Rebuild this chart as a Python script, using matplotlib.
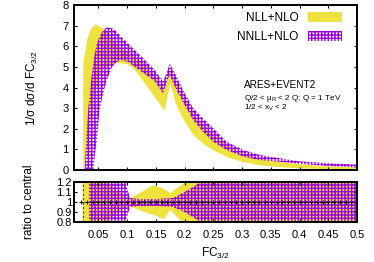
import numpy as np
import matplotlib
matplotlib.use('Agg')
import matplotlib.pyplot as plt
from matplotlib.patches import Patch

plt.rcParams['font.family'] = ['Liberation Sans', 'DejaVu Sans']
plt.rcParams['mathtext.fontset'] = 'custom'
plt.rcParams['mathtext.rm'] = 'Liberation Sans'
plt.rcParams['mathtext.it'] = 'Liberation Sans'
plt.rcParams['mathtext.default'] = 'regular'
plt.rcParams['hatch.linewidth'] = 1.0

yellow = '#eee23e'
purple = '#9a00e0'

# NLL+NLO band (main panel)
x_nll = [0.0227, 0.030, 0.036, 0.0436, 0.050, 0.058, 0.070, 0.080, 0.090, 0.100, 0.112, 0.125,
         0.146, 0.164, 0.174, 0.186, 0.200, 0.215, 0.232, 0.250, 0.273, 0.302, 0.331, 0.363,
         0.400, 0.450, 0.500]
nll_lo = [0.0, 1.0, 2.5, 3.8, 4.5, 4.9, 5.1, 5.2, 5.2, 5.15, 4.9, 4.41,
          3.6, 2.9, 4.2, 3.07, 2.34, 1.7, 1.29, 0.97, 0.65, 0.4, 0.25, 0.17,
          0.1, 0.06, 0.03]
nll_hi = [5.2, 6.4, 6.85, 7.08, 7.0, 6.87, 6.55, 6.2, 5.95, 5.7, 5.55, 5.3,
          4.6, 3.95, 4.9, 4.1, 3.4, 2.7, 2.2, 1.75, 1.2, 0.8, 0.55, 0.42,
          0.3, 0.2, 0.15]

# NNLL+NLO band (main panel)
x_nnll = [0.026, 0.032, 0.038, 0.041, 0.044, 0.047, 0.052, 0.058, 0.064, 0.073, 0.080, 0.088,
          0.101, 0.125, 0.148, 0.1626, 0.171, 0.174, 0.186, 0.200, 0.215, 0.232, 0.250, 0.273,
          0.302, 0.331, 0.363, 0.400, 0.450, 0.500]
nnll_hi = [0.0, 2.9, 4.5, 5.2, 5.7, 6.1, 6.46, 6.75, 6.92, 6.88, 6.75, 6.5,
           6.15, 5.5, 4.85, 4.28, 4.9, 5.17, 4.52, 3.72, 2.99, 2.5, 2.02, 1.37,
           0.97, 0.73, 0.58, 0.42, 0.33, 0.26]
nnll_lo = [0.0, 0.0, 0.0, 0.0, 0.75, 1.4, 2.9, 3.7, 4.3, 4.95, 5.2, 5.33,
           5.25, 4.77, 4.3, 3.72, 4.45, 4.6, 3.88, 3.15, 2.42, 1.86, 1.37, 0.97,
           0.65, 0.48, 0.41, 0.3, 0.2, 0.12]

# ratio panel
xr_nll = [0.0225, 0.034, 0.050, 0.065, 0.080, 0.100, 0.106, 0.125, 0.146, 0.164, 0.175, 0.199,
          0.220, 0.500]
rnll_hi = [3.0, 3.0, 1.3, 1.2, 1.12, 1.045, 1.04, 1.10, 1.17, 1.13, 1.09, 1.19, 1.3, 1.3]
rnll_lo = [-1.0, -1.0, 0.7, 0.8, 0.88, 0.955, 0.953, 0.91, 0.87, 0.83, 0.92, 0.78, 0.7, 0.7]

xr_nnll = [0.0335, 0.092, 0.098, 0.105, 0.120, 0.150, 0.170, 0.180, 0.200, 0.220, 0.240, 0.500]
rnnll_hi = [1.3, 1.3, 1.18, 1.04, 1.03, 1.03, 1.035, 1.04, 1.1, 1.17, 1.25, 1.3]
rnnll_lo = [0.7, 0.7, 0.82, 0.95, 0.96, 0.96, 0.955, 0.95, 0.9, 0.83, 0.75, 0.7]

bins = np.round(np.arange(0.02, 0.501, 0.01), 2)
xticks = [0.05, 0.1, 0.15, 0.2, 0.25, 0.3, 0.35, 0.4, 0.45, 0.5]
rticks = [0.8, 0.9, 1.0, 1.1, 1.2]

fig = plt.figure(figsize=(3.74, 2.62), dpi=100)
ax = fig.add_axes([74/374, 1-170/262, 283/374, 165/262])
axr = fig.add_axes([74/374, 1-222/262, 283/374, 40/262])

ax.fill_between(x_nll, nll_lo, nll_hi, color=yellow, lw=0)
ax.fill_between(x_nnll, nnll_lo, nnll_hi, facecolor='none', edgecolor=purple, hatch='+++++', lw=0)

axr.fill_between(xr_nll, rnll_lo, rnll_hi, color=yellow, lw=0)
axr.fill_between(xr_nnll, rnnll_lo, rnnll_hi, facecolor='none', edgecolor=purple, hatch='+++++', lw=0)
axr.axvline(xr_nll[0], color=purple, lw=0.8, ls=(0, (2, 2)))
axr.plot(bins, np.ones(len(bins)), color='black', ls=':', lw=0.8, marker='+', ms=3, mew=0.7)

for a in (ax, axr):
    a.set_xlim(0.0075, 0.5)
    a.set_xticks(xticks)
    a.tick_params(direction='in', top=True, right=True, length=2.5, width=0.8, labelsize=8)
    for s in a.spines.values():
        s.set_linewidth(1.4)

ax.set_ylim(0, 8)
ax.set_yticks(range(0, 9))
ax.tick_params(labelbottom=False, pad=4)
axr.set_ylim(0.8, 1.2)
axr.set_yticks(rticks)
axr.set_yticklabels(['0.8', '0.9', '1', '1.1', '1.2'])
axr.set_xticklabels(['%g' % t for t in xticks])
axr.tick_params(axis='y', pad=1.5)
axr.tick_params(axis='x', pad=6)

ax.set_ylabel('1/σ dσ/d FC$_{3/2}$', fontsize=8.5)
ax.yaxis.set_label_coords((40-74)/283, 0.5)
axr.set_ylabel('ratio to central', fontsize=8.5)
axr.yaxis.set_label_coords((35-74)/283, 0.5)
axr.set_xlabel('FC$_{3/2}$', fontsize=8.5)
axr.xaxis.set_label_coords(0.5, (222-246)/40)

handles = [Patch(facecolor=yellow, lw=0),
           Patch(facecolor='none', edgecolor=purple, hatch='+++++', lw=0)]
ax.legend(handles, ['NLL+NLO', 'NNLL+NLO'], loc='upper right', bbox_to_anchor=((342-74)/283, (170-12)/165),
          frameon=False, markerfirst=False, fontsize=8.5, handlelength=2.9, handleheight=0.9,
          handletextpad=0.8, labelspacing=0.6, borderpad=0, borderaxespad=0)

ax.text(0.60, (170-85)/165, 'ARES+EVENT2', fontsize=7.2, transform=ax.transAxes, va='center')
ax.text(0.60, (170-98)/165, 'Q/2 < μ$_R$ < 2 Q; Q = 1 TeV', fontsize=5.9, transform=ax.transAxes, va='center')
ax.text(0.60, (170-108)/165, '1/2 < x$_V$ < 2', fontsize=5.9, transform=ax.transAxes, va='center')

fig.savefig('out.png', dpi=100)
